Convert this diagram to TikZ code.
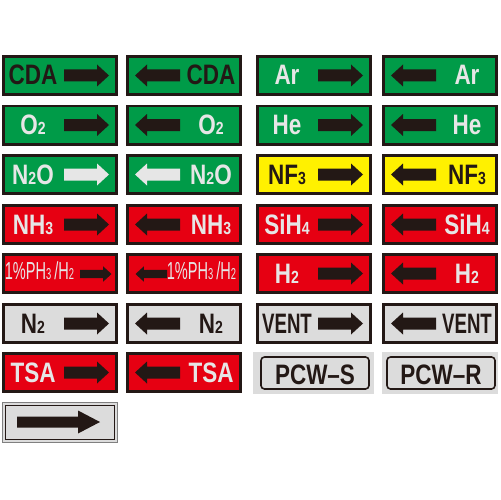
\documentclass[tikz,border=0pt]{standalone}
\usepackage{fontspec}
\setmainfont{Liberation Sans}[FakeStretch=0.8]
\usepackage{graphicx}

\definecolor{ink}{HTML}{231815}
\definecolor{signgreen}{HTML}{009B48}
\definecolor{signred}{HTML}{E60012}
\definecolor{signyellow}{HTML}{FFF100}
\definecolor{signgray}{HTML}{DCDCDC}
\definecolor{pale}{HTML}{E6E6E6}

\newcommand{\gsub}[1]{{\fontsize{10}{10}\selectfont #1}}
\newcommand{\phlabel}{\scalebox{0.74}[1]{1\%PH{\fontsize{9}{9}\selectfont 3}\,/H{\fontsize{9}{9}\selectfont 2}}}
\newcommand{\gasarrow}[3][]{\fill[#3,shift={#2},#1] (0,-6) -- (33,-6) -- (33,-11) -- (45,0) -- (33,11) -- (33,6) -- (0,6) -- cycle;}
% sign with arrow to the right: x, y, fill, text, arrow, name, label
\newcommand{\signR}[7]{%
  \draw[frame,fill=#3] (#1+1.5,#2+1.5) rectangle (#1+114.5,#2+39.5);
  \node[gaslabel,text=#4] (#6) at (#1+31,#2+30) {#7};
  \gasarrow{(#1+62,#2+20.5)}{#5}}
% sign with arrow to the left
\newcommand{\signL}[7]{%
  \draw[frame,fill=#3] (#1+1.5,#2+1.5) rectangle (#1+114.5,#2+39.5);
  \node[gaslabel,text=#4] (#6) at (#1+85,#2+30) {#7};
  \gasarrow[xscale=-1]{(#1+54,#2+20.5)}{#5}}

\tikzset{
  frame/.style={draw=ink,line width=0.06cm},
  gaslabel/.style={font=\fontsize{16}{16}\selectfont\bfseries,anchor=base,inner sep=0pt},
}

\begin{document}
\begin{tikzpicture}[x=0.02cm,y=-0.02cm]
\fill[white] (0,0) rectangle (500,500);
\useasboundingbox (0,0) rectangle (500,500);
% row 1
\signR{2}{55}{signgreen}{ink}{ink}{cdaR}{CDA}
\signL{126}{55}{signgreen}{ink}{ink}{cdaL}{CDA}
\signR{256}{55}{signgreen}{pale}{ink}{arR}{Ar}
\signL{382}{55}{signgreen}{pale}{ink}{arL}{Ar}
% row 2
\signR{2}{104.5}{signgreen}{pale}{ink}{oxR}{O\gsub{2}}
\signL{126}{104.5}{signgreen}{pale}{ink}{oxL}{O\gsub{2}}
\signR{256}{104.5}{signgreen}{pale}{ink}{heR}{He}
\signL{382}{104.5}{signgreen}{pale}{ink}{heL}{He}
% row 3
\signR{2}{154}{signgreen}{pale}{pale}{nnoR}{N\gsub{2}O}
\signL{126}{154}{signgreen}{pale}{pale}{nnoL}{N\gsub{2}O}
\signR{256}{154}{signyellow}{ink}{ink}{nfR}{NF\gsub{3}}
\signL{382}{154}{signyellow}{ink}{ink}{nfL}{NF\gsub{3}}
% row 4
\signR{2}{204}{signred}{pale}{ink}{nhR}{NH\gsub{3}}
\signL{126}{204}{signred}{pale}{ink}{nhL}{NH\gsub{3}}
\signR{256}{204}{signred}{pale}{ink}{sihR}{SiH\gsub{4}}
\signL{382}{204}{signred}{pale}{ink}{sihL}{SiH\gsub{4}}
% row 5
\draw[frame,fill=signred] (3.5,254.5) rectangle (116.5,292.5);
\node[gaslabel,font=\fontsize{14}{14}\selectfont,text=pale] (phR) at (39.5,279) {\phlabel};
\gasarrow[scale=0.7]{(80,274)}{ink}
\draw[frame,fill=signred] (127.5,254.5) rectangle (240.5,292.5);
\node[gaslabel,font=\fontsize{14}{14}\selectfont,text=pale] (phL) at (201.5,279) {\phlabel};
\gasarrow[xscale=-0.7,yscale=0.7]{(167,274)}{ink}
\signR{256}{253}{signred}{pale}{ink}{hhR}{H\gsub{2}}
\signL{382}{253}{signred}{pale}{ink}{hhL}{H\gsub{2}}
% row 6
\signR{2}{303}{signgray}{ink}{ink}{nnR}{N\gsub{2}}
\signL{126}{303}{signgray}{ink}{ink}{nnL}{N\gsub{2}}
\signR{256}{303}{signgray}{ink}{ink}{ventR}{\scalebox{0.83}[1]{VENT}}
\signL{382}{303}{signgray}{ink}{ink}{ventL}{\scalebox{0.83}[1]{VENT}}
% row 7
\signR{2}{352}{signred}{pale}{ink}{tsaR}{TSA}
\signL{126}{352}{signred}{pale}{ink}{tsaL}{TSA}
\fill[signgray] (253,352) rectangle (374,394);
\draw[ink,line width=0.9pt,rounded corners=0.07cm] (261,357) rectangle (369,389);
\node[gaslabel,text=ink] (pcwS) at (315,384.5) {PCW–S};
\fill[signgray] (382,352) rectangle (498,394);
\draw[ink,line width=0.9pt,rounded corners=0.07cm] (387,357) rectangle (495,389);
\node[gaslabel,text=ink] (pcwR) at (441,384.5) {PCW–R};
% row 8
\draw[gray,fill=signgray,line width=0.8pt] (2.5,402.5) rectangle (117.5,442.5);
\draw[ink,line width=0.6pt] (5.5,405.5) rectangle (114.5,439.5);
\fill[ink] (17,416.5) -- (78,416.5) -- (78,410.5) -- (100,422) -- (78,433.5) -- (78,427.5) -- (17,427.5) -- cycle;
\end{tikzpicture}
\end{document}
